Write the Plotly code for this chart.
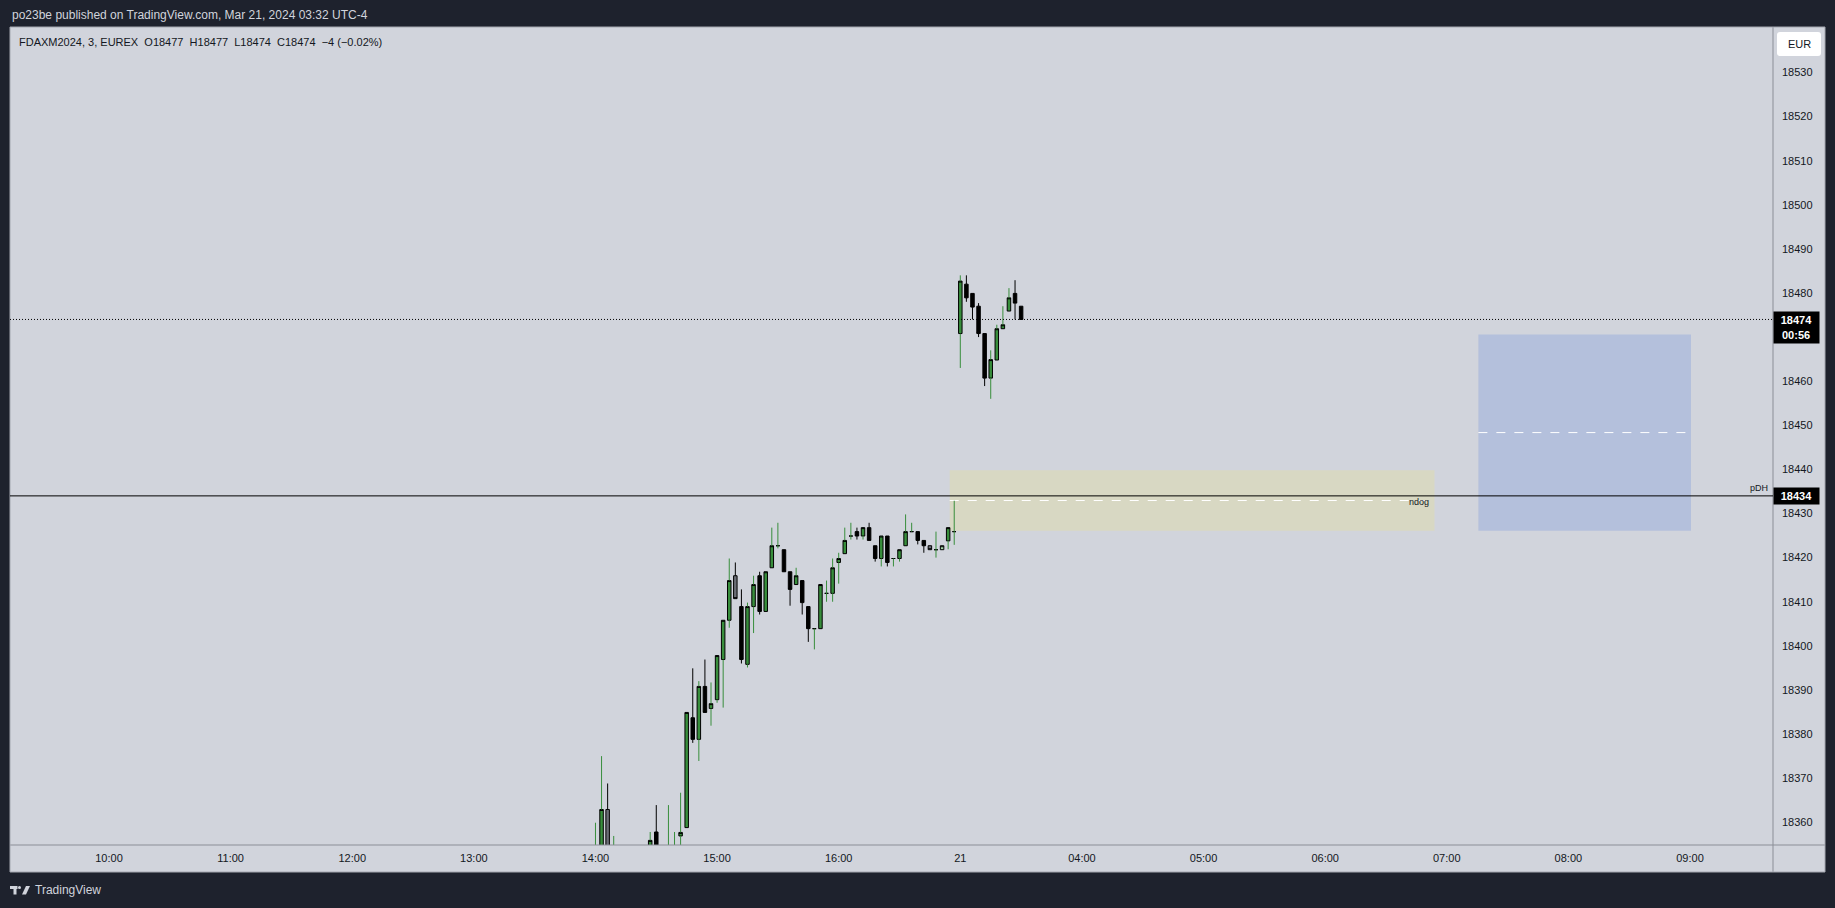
import plotly.graph_objects as go
import pandas as pd

# ---------------- data ----------------
day1_times = pd.date_range("2024-03-20 14:00", periods=60, freq="3min")
day2_times = pd.date_range("2024-03-21 03:00", periods=11, freq="3min")
times = list(day1_times) + list(day2_times)

opens = [18348, 18350, 18362.9, 18345, 18350, 18346, 18344, 18348, 18351, 18350,
         18357.8, 18350, 18348, 18350, 18356.9, 18358.8, 18383.7, 18378.8, 18390.8, 18385.8,
         18387.8, 18396.9, 18405.8, 18415.9, 18408.9, 18395.8, 18408.9, 18415.9, 18407.8, 18417.7,
         18422.7, 18421.8, 18416.8, 18413.9, 18414.8, 18408.9, 18403.9, 18403.9, 18411.9, 18411.9,
         18418.9, 18420.9, 18424.9, 18425.9, 18424.9, 18426.8, 18422.7, 18419.8, 18424.9, 18419.8,
         18419.8, 18422.7, 18425.9, 18425.9, 18423.9, 18422.7, 18421.8, 18421.8, 18423.8, 18425.9,
         18470.8, 18482.0, 18479.9, 18477.0, 18470.8, 18460.7, 18464.8, 18471.9, 18475.9, 18479.9,
         18477]
highs = [18359.9, 18375.0, 18368.8, 18356.9, 18353, 18352, 18350, 18353, 18354, 18357.8,
         18363.9, 18354, 18363.9, 18357.8, 18366.7, 18384.9, 18394.9, 18392.0, 18396.9, 18391.7,
         18397.8, 18405.8, 18419.8, 18418.9, 18412.8, 18409.8, 18415.9, 18416.8, 18416.8, 18426.8,
         18427.9, 18421.8, 18416.8, 18417.7, 18414.8, 18408.9, 18403.9, 18413.9, 18414.8, 18419.8,
         18421.1, 18426.8, 18427.9, 18426.8, 18426.8, 18427.9, 18422.7, 18424.9, 18424.9, 18419.8,
         18421.8, 18429.8, 18427.9, 18425.9, 18423.9, 18422.7, 18425.9, 18422.7, 18426.8, 18432.9,
         18484.0, 18484.0, 18479.9, 18477.7, 18470.8, 18467.0, 18472.8, 18477.0, 18481.1, 18482.9,
         18477]
lows = [18345, 18348, 18350, 18342, 18343, 18340, 18339, 18345, 18346, 18348,
        18347, 18346, 18345, 18348, 18353, 18358.8, 18378.0, 18373.9, 18384.9, 18381.9,
        18387.1, 18386.0, 18404.1, 18410.7, 18396.0, 18395.1, 18402.9, 18407.1, 18407.8, 18417.7,
        18422.1, 18416.8, 18409.1, 18413.9, 18407.1, 18400.9, 18399.2, 18403.9, 18410.0, 18410.0,
        18414.1, 18420.9, 18424.1, 18424.1, 18424.1, 18423.9, 18419.1, 18418.0, 18418.0, 18418.0,
        18419.1, 18422.7, 18425.9, 18423.0, 18421.1, 18421.8, 18420.0, 18421.8, 18421.9, 18422.9,
        18463.0, 18478.0, 18474.0, 18470.0, 18458.9, 18456.0, 18464.8, 18471.9, 18475.9, 18474.0,
        18474]
closes = [18352, 18362.9, 18352, 18350, 18346, 18344, 18348, 18351, 18350, 18355.9,
          18350, 18352, 18353, 18354, 18357.7, 18384.9, 18378.8, 18390.8, 18384.9, 18386.9,
          18397.8, 18405.8, 18414.8, 18410.7, 18396.9, 18408.9, 18413.9, 18407.8, 18416.8, 18422.7,
          18422.7, 18416.8, 18412.8, 18415.9, 18409.8, 18403.9, 18403.9, 18413.9, 18411.9, 18417.7,
          18419.8, 18423.9, 18424.9, 18424.9, 18426.8, 18423.9, 18419.8, 18424.9, 18418.9, 18419.8,
          18421.8, 18425.9, 18425.9, 18423.9, 18422.7, 18421.8, 18421.8, 18422.7, 18426.8, 18425.9,
          18482.7, 18478.9, 18476.8, 18470.8, 18460.7, 18464.9, 18471.9, 18472.8, 18478.9, 18477.7,
          18474]
# candle colour class: g = up (green), b = down (black), n = neutral (grey), l = light green
kinds = ["g", "g", "n", "g", "b", "b", "g", "g", "b", "g",
         "b", "g", "g", "g", "g", "g", "b", "g", "b", "g",
         "g", "g", "g", "n", "b", "g", "g", "b", "g", "g",
         "g", "b", "b", "g", "b", "b", "g", "g", "g", "g",
         "g", "g", "g", "b", "g", "b", "b", "g", "b", "g",
         "g", "g", "g", "b", "b", "n", "g", "l", "g", "g",
         "g", "b", "b", "b", "b", "g", "g", "g", "g", "b",
         "b"]

tick_times = ["2024-03-20 10:00", "2024-03-20 11:00", "2024-03-20 12:00", "2024-03-20 13:00",
              "2024-03-20 14:00", "2024-03-20 15:00", "2024-03-20 16:00", "2024-03-21 03:00",
              "2024-03-21 04:00", "2024-03-21 05:00", "2024-03-21 06:00", "2024-03-21 07:00",
              "2024-03-21 08:00", "2024-03-21 09:00"]
tick_labels = ["10:00", "11:00", "12:00", "13:00", "14:00", "15:00", "16:00", "21",
               "04:00", "05:00", "06:00", "07:00", "08:00", "09:00"]
price_ticks = [18360, 18370, 18380, 18390, 18400, 18410, 18420, 18430, 18440,
               18450, 18460, 18480, 18490, 18500, 18510, 18520, 18530]

last_price = 18474
pdh_price = 18434
ndog_low, ndog_high = 18426.1, 18439.8
ndog_start, ndog_end = "2024-03-20 16:54:46", "2024-03-21 06:53:56"
box_low, box_high = 18426.1, 18470.6
box_start, box_end = "2024-03-21 07:15:36", "2024-03-21 09:00:30"
x_range = ["2024-03-20 09:11:09", "2024-03-21 09:40:57"]
y_range = [18354.85, 18540.3]

# ---------------- layout geometry ----------------
W, H = 1835, 908
ML, MR, MT, MB = 10, 62, 27, 63
PW = W - ML - MR
PH = H - MT - MB


def px(x):
    return (x - ML) / PW


def py(y):
    return (H - MB - y) / PH


BG = "#1e222d"
PANE = "#d1d4dc"
TXT = "#131722"
FONT = "Liberation Sans, Arial, sans-serif"

fills = {"g": "#388e3c", "b": "#000000", "n": "#6b6e76", "l": "#a5d6a7"}
wick_cols = {"g": "#388e3c", "b": "#000000", "n": "#000000", "l": "#000000"}

fig = go.Figure()

# wicks (outside bodies only)
for col in ["#388e3c", "#000000"]:
    wx, wy = [], []
    for t, o, h, l, c, k in zip(times, opens, highs, lows, closes, kinds):
        if wick_cols[k] != col:
            continue
        top, bot = max(o, c), min(o, c)
        if h > top:
            wx += [t, t, None]
            wy += [top, h, None]
        if l < bot:
            wx += [t, t, None]
            wy += [l, bot, None]
    fig.add_trace(go.Scatter(x=wx, y=wy, mode="lines", line=dict(color=col, width=1),
                             hoverinfo="skip", showlegend=False))

# bodies
for k, fc in fills.items():
    idx = [i for i, kk in enumerate(kinds) if kk == k]
    if not idx:
        continue
    fig.add_trace(go.Candlestick(
        x=[times[i] for i in idx],
        open=[opens[i] for i in idx],
        close=[closes[i] for i in idx],
        high=[max(opens[i], closes[i]) for i in idx],
        low=[min(opens[i], closes[i]) for i in idx],
        increasing=dict(line=dict(color="#000000", width=1), fillcolor=fc),
        decreasing=dict(line=dict(color="#000000", width=1), fillcolor=fc),
        whiskerwidth=0, showlegend=False, hoverinfo="skip"))

shapes = []
# axis panes
shapes.append(dict(type="rect", xref="paper", yref="paper", x0=px(1773), x1=px(1825),
                   y0=py(872), y1=py(27), fillcolor=PANE, line=dict(width=0), layer="below"))
shapes.append(dict(type="rect", xref="paper", yref="paper", x0=px(10), x1=px(1825),
                   y0=py(872), y1=py(845), fillcolor=PANE, line=dict(width=0), layer="below"))
shapes.append(dict(type="line", xref="paper", yref="paper", x0=px(1773), x1=px(1773),
                   y0=py(872), y1=py(27), line=dict(color="#8b8e97", width=1)))
shapes.append(dict(type="line", xref="paper", yref="paper", x0=px(10), x1=px(1825),
                   y0=py(845), y1=py(845), line=dict(color="#8b8e97", width=1)))
shapes.append(dict(type="rect", xref="paper", yref="paper", x0=px(10), x1=px(1825),
                   y0=py(872), y1=py(27), line=dict(color="#a4a7b0", width=1)))
# NDOG zone
shapes.append(dict(type="rect", xref="x", yref="y", x0=ndog_start, x1=ndog_end,
                   y0=ndog_low, y1=ndog_high, fillcolor="#d8d8c3", line=dict(width=0), layer="below"))
shapes.append(dict(type="line", xref="x", yref="y", x0=ndog_start, x1=ndog_end,
                   y0=(ndog_low + ndog_high) / 2, y1=(ndog_low + ndog_high) / 2,
                   line=dict(color="#ffffff", width=1, dash="dash"), layer="below"))
# blue box
shapes.append(dict(type="rect", xref="x", yref="y", x0=box_start, x1=box_end,
                   y0=box_low, y1=box_high, fillcolor="#b4c0dc", line=dict(width=0), layer="below"))
shapes.append(dict(type="line", xref="x", yref="y", x0=box_start, x1=box_end,
                   y0=(box_low + box_high) / 2, y1=(box_low + box_high) / 2,
                   line=dict(color="#ffffff", width=1, dash="dash"), layer="below"))
# pDH and last-price lines
shapes.append(dict(type="line", xref="paper", yref="y", x0=0, x1=1, y0=pdh_price, y1=pdh_price,
                   line=dict(color="#000000", width=1)))
shapes.append(dict(type="line", xref="paper", yref="y", x0=0, x1=1, y0=last_price, y1=last_price,
                   line=dict(color="#000000", width=1, dash="1px,2px")))
# EUR rounded box
x0e, x1e, y0e, y1e, r = 1777, 1821, 32, 56, 3
path = (f"M {px(x0e + r)} {py(y0e)} L {px(x1e - r)} {py(y0e)} Q {px(x1e)} {py(y0e)} {px(x1e)} {py(y0e + r)} "
        f"L {px(x1e)} {py(y1e - r)} Q {px(x1e)} {py(y1e)} {px(x1e - r)} {py(y1e)} "
        f"L {px(x0e + r)} {py(y1e)} Q {px(x0e)} {py(y1e)} {px(x0e)} {py(y1e - r)} "
        f"L {px(x0e)} {py(y0e + r)} Q {px(x0e)} {py(y0e)} {px(x0e + r)} {py(y0e)} Z")
shapes.append(dict(type="path", xref="paper", yref="paper", path=path, fillcolor="#ffffff",
                   line=dict(width=0)))
# TradingView logo (approximation)
LOGO = "#d1d4dc"
shapes.append(dict(type="rect", xref="paper", yref="paper", x0=px(10), x1=px(17.5), y0=py(889), y1=py(886),
                   fillcolor=LOGO, line=dict(width=0)))
shapes.append(dict(type="rect", xref="paper", yref="paper", x0=px(13.5), x1=px(16.5), y0=py(894.5), y1=py(886),
                   fillcolor=LOGO, line=dict(width=0)))
shapes.append(dict(type="circle", xref="paper", yref="paper", x0=px(18), x1=px(21), y0=py(889), y1=py(886),
                   fillcolor=LOGO, line=dict(width=0)))
shapes.append(dict(type="path", xref="paper", yref="paper",
                   path=f"M {px(26)} {py(886)} L {px(30)} {py(886)} L {px(26)} {py(894.5)} L {px(22)} {py(894.5)} Z",
                   fillcolor=LOGO, line=dict(width=0)))

annotations = [
    dict(xref="paper", yref="paper", x=px(10), y=py(15), xanchor="left", yanchor="middle",
         text="po23be published on TradingView.com, Mar 21, 2024 03:32 UTC-4", showarrow=False,
         font=dict(family=FONT, size=12, color="#d1d4dc")),
    dict(xref="paper", yref="paper", x=px(17), y=py(42), xanchor="left", yanchor="middle",
         text="FDAXM2024, 3, EUREX  O18477  H18477  L18474  C18474  \u22124 (\u22120.02%)", showarrow=False,
         font=dict(family=FONT, size=11, color=TXT)),
    dict(xref="paper", yref="paper", x=px(1799), y=py(44), xanchor="center", yanchor="middle",
         text="EUR", showarrow=False, font=dict(family=FONT, size=11, color=TXT)),
    dict(xref="paper", yref="y", x=1, y=last_price, xanchor="left", yanchor="top", yshift=8,
         text="<b>18474</b><br><b>00:56</b>", showarrow=False, bgcolor="#000000",
         width=41, height=27, borderpad=2, align="center",
         font=dict(family=FONT, size=11, color="#ffffff")),
    dict(xref="paper", yref="y", x=1, y=pdh_price, xanchor="left", yanchor="middle",
         text="<b>18434</b>", showarrow=False, bgcolor="#000000", width=41, height=12, borderpad=2,
         align="center", font=dict(family=FONT, size=11, color="#ffffff")),
    dict(xref="paper", yref="y", x=px(1770), y=pdh_price, xanchor="right", yanchor="bottom", yshift=1,
         text="pDH", showarrow=False, font=dict(family=FONT, size=9, color=TXT)),
    dict(xref="x", yref="y", x=ndog_end, y=(ndog_low + ndog_high) / 2, xanchor="right", yanchor="middle",
         xshift=-3, yshift=-1, text="ndog", showarrow=False, font=dict(family=FONT, size=9, color=TXT)),
    dict(xref="paper", yref="paper", x=px(33), y=py(890), xanchor="left", yanchor="middle",
         text="TradingView", showarrow=False, font=dict(family=FONT, size=12, color="#d1d4dc")),
]

fig.update_layout(
    width=W, height=H, autosize=False,
    margin=dict(l=ML, r=MR, t=MT, b=MB, pad=0),
    paper_bgcolor=BG, plot_bgcolor=PANE,
    shapes=shapes, annotations=annotations, showlegend=False,
    boxgap=0.18,
    font=dict(family=FONT, size=11, color=TXT),
    xaxis=dict(type="date", range=x_range, rangeslider=dict(visible=False),
               rangebreaks=[dict(bounds=[17, 3], pattern="hour")],
               tickmode="array", tickvals=tick_times, ticktext=tick_labels,
               showgrid=False, zeroline=False, showline=False, ticks="", ticklabelstandoff=5,
               tickfont=dict(family=FONT, size=11, color=TXT), fixedrange=True),
    yaxis=dict(side="right", range=y_range, tickmode="array", tickvals=price_ticks,
               showgrid=False, zeroline=False, showline=False, ticks="", ticklabelstandoff=8,
               tickformat="d", tickfont=dict(family=FONT, size=11, color=TXT), fixedrange=True),
)

fig.write_html("out.html", config={"displayModeBar": False},
               post_script="document.body.style.margin='0';")
